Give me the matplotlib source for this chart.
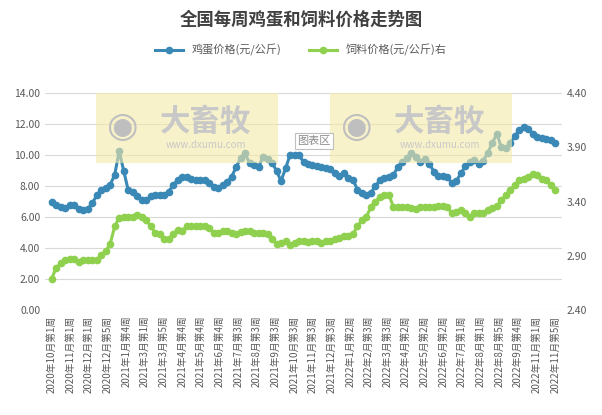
import matplotlib
matplotlib.use('Agg')
import matplotlib.pyplot as plt
import numpy as np
from matplotlib.patches import Rectangle

plt.rcParams['font.family'] = ['Noto Sans CJK SC', 'DejaVu Sans']

# 鸡蛋价格（元/公斤），周度
egg = [6.98, 6.78, 6.64, 6.58, 6.78, 6.78, 6.53, 6.43, 6.53, 6.88,
       7.39, 7.76, 7.90, 8.07, 8.72, 10.25, 8.99, 7.74, 7.64, 7.33,
       7.07, 7.07, 7.33, 7.43, 7.43, 7.43, 7.64, 8.05, 8.41, 8.60,
       8.60, 8.46, 8.36, 8.36, 8.36, 8.21, 7.94, 7.88, 8.05, 8.25,
       8.60, 9.20, 9.80, 10.10, 9.47, 9.33, 9.23, 9.89, 9.74, 9.50,
       8.99, 8.32, 9.13, 10.00, 10.00, 10.00, 9.54, 9.44, 9.33, 9.27,
       9.23, 9.17, 9.07, 8.86, 8.66, 8.86, 8.51, 8.41, 7.76, 7.56,
       7.39, 7.56, 8.00, 8.37, 8.51, 8.56, 8.72, 9.23, 9.54, 9.81,
       10.15, 9.85, 9.54, 9.74, 9.44, 8.93, 8.66, 8.62, 8.58, 8.17,
       8.31, 8.82, 9.27, 9.54, 9.68, 9.40, 9.64, 10.15, 10.77, 11.38,
       10.50, 10.42, 10.77, 11.24, 11.59, 11.79, 11.69, 11.38, 11.18, 11.07,
       11.03, 10.97, 10.77]

# 饲料价格（元/公斤），右轴
feed = [2.69, 2.79, 2.83, 2.86, 2.87, 2.87, 2.84, 2.86, 2.86, 2.86,
        2.86, 2.91, 2.94, 3.01, 3.17, 3.25, 3.26, 3.26, 3.26, 3.28,
        3.26, 3.23, 3.17, 3.11, 3.10, 3.05, 3.05, 3.10, 3.14, 3.13,
        3.17, 3.17, 3.17, 3.17, 3.17, 3.16, 3.11, 3.11, 3.13, 3.13,
        3.11, 3.10, 3.12, 3.13, 3.13, 3.11, 3.11, 3.11, 3.10, 3.05,
        3.01, 3.02, 3.04, 3.00, 3.02, 3.04, 3.04, 3.03, 3.04, 3.04,
        3.02, 3.04, 3.04, 3.05, 3.06, 3.08, 3.08, 3.10, 3.17, 3.23,
        3.26, 3.35, 3.40, 3.44, 3.46, 3.46, 3.35, 3.35, 3.35, 3.35,
        3.34, 3.33, 3.35, 3.35, 3.35, 3.35, 3.36, 3.36, 3.35, 3.29,
        3.30, 3.32, 3.29, 3.26, 3.29, 3.29, 3.29, 3.32, 3.34, 3.36,
        3.41, 3.46, 3.51, 3.55, 3.60, 3.61, 3.63, 3.65, 3.64, 3.61,
        3.60, 3.55, 3.51]

tick_labels = ['2020年10月第1周', '2020年11月第1周', '2020年12月第1周', '2020年12月第5周',
               '2021年1月第4周', '2021年3月第1周', '2021年3月第5周', '2021年4月第4周',
               '2021年5月第4周', '2021年6月第4周', '2021年7月第3周', '2021年8月第3周',
               '2021年9月第3周', '2021年10月第3周', '2021年11月第3周', '2021年12月第3周',
               '2022年1月第2周', '2022年2月第3周', '2022年3月第3周', '2022年4月第2周',
               '2022年5月第2周', '2022年6月第2周', '2022年7月第1周', '2022年8月第1周',
               '2022年8月第5周', '2022年9月第4周', '2022年11月第1周', '2022年11月第5周']

egg_color = '#3a88b5'
feed_color = '#8fd14f'
grey = '#595959'

fig = plt.figure(figsize=(6.02, 4.15), dpi=100)
ax = fig.add_axes([45 / 602, 105 / 415, 517 / 602, 217 / 415])
ax2 = ax.twinx()

x = list(range(len(egg)))
ax.plot(x, egg, color=egg_color, lw=2.2, marker='o', ms=4.5, zorder=3)
ax2.plot(x, feed, color=feed_color, lw=2.2, marker='o', ms=4.5, zorder=3)

ax.set_ylim(0, 14)
ax.set_yticks([0, 2, 4, 6, 8, 10, 12, 14])
ax.set_yticklabels([f'{v:.2f}' for v in ax.get_yticks()])
ax2.set_ylim(2.4, 4.4)
ax2.set_yticks([2.4, 2.9, 3.4, 3.9, 4.4])
ax2.set_yticklabels([f'{v:.2f}' for v in ax2.get_yticks()])
ax.set_xlim(-1.5, len(egg) + 0.5)

pos = np.linspace(0, len(egg) - 1, len(tick_labels))
ax.set_xticks(pos)
ax.set_xticklabels(tick_labels, rotation=90, fontsize=7, color=grey)
ax.grid(axis='y', color='#d9d9d9', lw=0.8)
ax.set_axisbelow(True)
for a in (ax, ax2):
    for s in a.spines.values():
        s.set_visible(False)
    a.tick_params(length=0, labelsize=7.5, colors=grey)
ax.tick_params(axis='x', labelsize=7, pad=4)

# 水印
for x0 in (96, 330):
    fig.patches.append(Rectangle((x0 / 602, 1 - 163 / 415), 182 / 602, 70 / 415,
                                 transform=fig.transFigure, facecolor='#f3eaa8',
                                 alpha=0.6, edgecolor='none', zorder=5))
    fig.text((x0 + 27) / 602, 1 - 127 / 415, '◉', fontsize=26, color='#bfbfbf',
             ha='center', va='center', family='DejaVu Sans', zorder=6)
    fig.text((x0 + 110) / 602, 1 - 122 / 415, '大畜牧', fontsize=22, color='#c8c8c8',
             ha='center', va='center', fontweight='bold', zorder=6)
    fig.text((x0 + 110) / 602, 1 - 145 / 415, 'www.dxumu.com', fontsize=7, color='#c8c8c8',
             ha='center', va='center', zorder=6)

fig.text(314 / 602, 1 - 141 / 415, '图表区', fontsize=8, color='#8c8c8c', ha='center',
         va='center', zorder=7,
         bbox=dict(boxstyle='square,pad=0.25', fc='white', ec='#bfbfbf', lw=0.8))

fig.text(0.5, 1 - 20 / 415, '全国每周鸡蛋和饲料价格走势图', ha='center', va='center',
         fontsize=12.5, fontweight='bold', color='#404040')
h1, = ax.plot([], [], color=egg_color, lw=2.2, marker='o', ms=4.5)
h2, = ax.plot([], [], color=feed_color, lw=2.2, marker='o', ms=4.5)
fig.legend([h1, h2], ['鸡蛋价格(元/公斤)', '饲料价格(元/公斤)右'], loc='center',
           bbox_to_anchor=(0.5, 1 - 50 / 415), ncol=2, frameon=False, fontsize=8,
           handlelength=2.5, columnspacing=2.5, labelcolor=grey)

fig.savefig('out.png', dpi=100, facecolor='white')
